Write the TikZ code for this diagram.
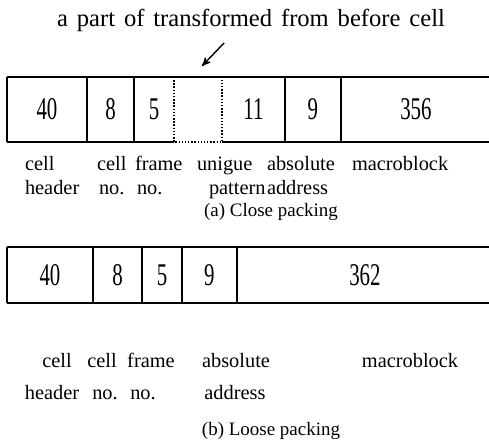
\documentclass[tikz,border=0pt]{standalone}
\usepackage{fontspec}
\usepackage{graphicx}
\setmainfont{Liberation Serif}
\usetikzlibrary{arrows,positioning}

% narrow tall digits inside the fields
\newcommand\fieldnum[1]{\scalebox{0.66}[1]{\fontsize{18}{18}\selectfont #1}}

\begin{document}
\begin{tikzpicture}[x=0.02cm, y=0.02cm,
                    every node/.style={inner sep=0pt, outer sep=0pt},
                    field/.style={minimum height=1.3cm},
                    fieldb/.style={minimum height=1.12cm},
                    frame/.style={line width=0.8pt},
                    gap/.style={frame, densely dotted},
                    lbl/.style={font=\fontsize{11.6}{14}\selectfont, anchor=base west},
                    lblb/.style={font=\fontsize{11.6}{14}\selectfont, anchor=base},
                    caption/.style={font=\fontsize{10.8}{12}\selectfont}]
\useasboundingbox (0,0) rectangle (489,441);

\node[font={\fontsize{14}{14}\selectfont\spaceskip 0.36em\relax}] (title) at (251,421) {a part of transformed from before cell};
\coordinate (tail) at (224,398);
\coordinate (head) at (202,375);
\draw[->,>=stealth',line width=0.8pt] (tail) -- (head);

% close packing
\node[field, minimum width=1.6cm, anchor=west] (a40) at (7,331.5) {\fieldnum{40}};
\node[field, minimum width=0.94cm, right=0pt of a40] (a8) {\fieldnum{8}};
\node[field, minimum width=0.8cm, right=0pt of a8] (a5) {\fieldnum{5}};
\node[field, minimum width=0.96cm, right=0pt of a5] (agap) {};
\node[field, minimum width=1.26cm, right=0pt of agap] (a11) {\fieldnum{11}};
\node[field, minimum width=1.12cm, right=0pt of a11] (a9) {\fieldnum{9}};
\node[field, minimum width=3.0cm, right=0pt of a9] (a356) {\fieldnum{356}};

\draw[frame] (a40.north west) -- (a356.north east);
\draw[frame] (a40.south west) -- (agap.south west) (agap.south east) -- (a356.south east);
\foreach \f in {a40,a8,a5,a9,a356}
  \draw[frame] (\f.north west) -- (\f.south west);
\draw[gap] (agap.north west) -- (agap.south west) -- (agap.south east) -- (agap.north east);

\foreach \x/\w in {25/cell,97/cell,135/frame,197/unigue,267/absolute,352/macroblock}
  \node[lbl] (atop\x) at (\x,271) {\w};
\foreach \x/\w in {25/header,99/no.,137/no.,209/pattern,267/address}
  \node[lbl] (abot\x) at (\x,246.5) {\w};
\node[caption] (capa) at (271,229) {(a) Close packing};

% loose packing
\node[fieldb, minimum width=1.72cm, anchor=west] (b40) at (7,166) {\fieldnum{40}};
\node[fieldb, minimum width=0.98cm, right=0pt of b40] (b8) {\fieldnum{8}};
\node[fieldb, minimum width=0.8cm, right=0pt of b8] (b5) {\fieldnum{5}};
\node[fieldb, minimum width=1.1cm, right=0pt of b5] (b9) {\fieldnum{9}};
\node[fieldb, minimum width=5.12cm, right=0pt of b9] (b362) {\fieldnum{362}};

\draw[frame] (b40.north west) -- (b362.north east) (b40.south west) -- (b362.south east);
\foreach \f in {b40,b8,b5,b9,b362}
  \draw[frame] (\f.north west) -- (\f.south west);

\foreach \x/\w in {57/cell,102/cell,151/frame,236/absolute,410/macroblock}
  \node[lblb] (btop\x) at (\x,74) {\w};
\foreach \x/\w in {52/header,105/no.,143/no.,235/address}
  \node[lblb] (bbot\x) at (\x,41.5) {\w};
\node[caption] (capb) at (271,10) {(b) Loose packing};

\end{tikzpicture}
\end{document}
